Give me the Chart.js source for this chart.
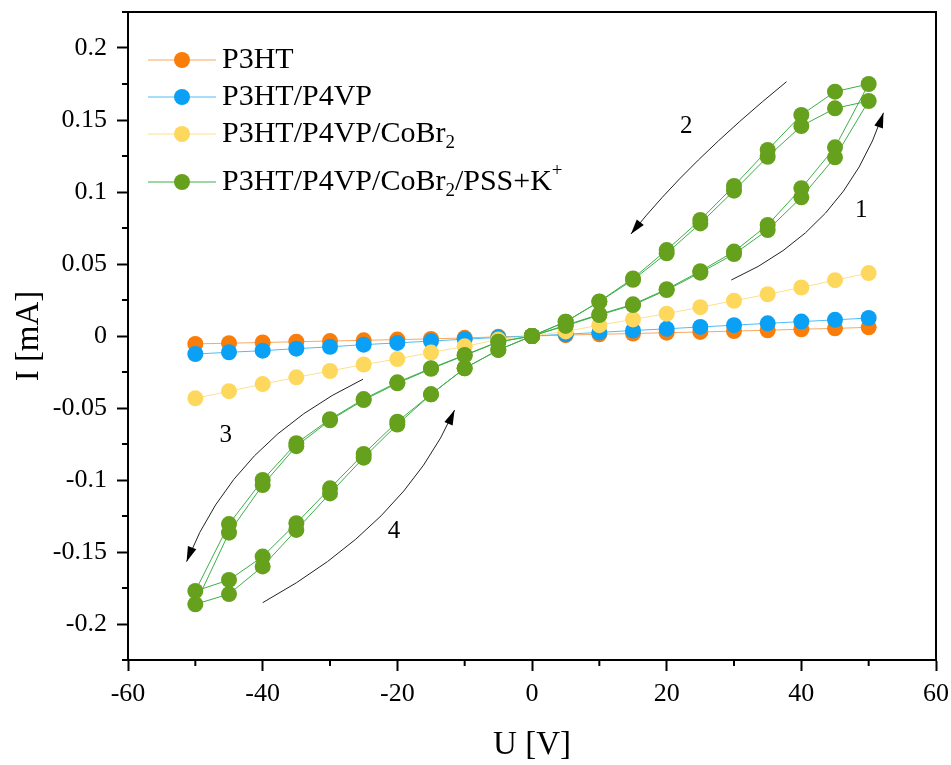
<!DOCTYPE html>
<html>
<head>
<meta charset="utf-8">
<title>I-U</title>
<script src="https://cdn.jsdelivr.net/npm/chart.js@4.4.1/dist/chart.umd.min.js"></script>
<style>
  html, body { margin: 0; padding: 0; background: #fff; }
  #wrap { width: 951px; height: 765px; }
</style>
</head>
<body>
<div id="wrap"><canvas id="iv-chart" width="951" height="765"></canvas></div>
<script>
// voltage [V] for the single sweeps
var uSweep = [-50, -45, -40, -35, -30, -25, -20, -15, -10, -5, 0, 5, 10, 15, 20, 25, 30, 35, 40, 45, 50];
// voltage [V] for one full cycle 0 -> 50 -> -50 -> 0
var uCycle = [0, 5, 10, 15, 20, 25, 30, 35, 40, 45, 50,
              45, 40, 35, 30, 25, 20, 15, 10, 5, 0,
              -5, -10, -15, -20, -25, -30, -35, -40, -45, -50,
              -45, -40, -35, -30, -25, -20, -15, -10, -5, 0];

// current [mA]
var iP3HT = [-0.0055, -0.005, -0.0045, -0.004, -0.0035, -0.003, -0.0025, -0.002, -0.0013, -0.0006, 0,
             0.0006, 0.0012, 0.0017, 0.0023, 0.0028, 0.0034, 0.004, 0.0047, 0.0053, 0.006];
var iP4VP = [-0.0125, -0.0113, -0.0102, -0.0088, -0.0075, -0.006, -0.0048, -0.0035, -0.0022, -0.001, 0,
             0.0012, 0.0025, 0.0038, 0.005, 0.0063, 0.0075, 0.0088, 0.01, 0.0112, 0.0125];
var iCoBr = [-0.0433, -0.0383, -0.0334, -0.0287, -0.0243, -0.0198, -0.016, -0.0115, -0.0072, -0.0025, 0,
             0.0032, 0.0075, 0.0115, 0.0155, 0.02, 0.0245, 0.029, 0.0337, 0.0388, 0.0437];
var iPssCycle1 = [0, 0.007, 0.0146, 0.0215, 0.0319, 0.044, 0.0569, 0.0736, 0.0963, 0.1241, 0.1632,
                  0.1581, 0.1458, 0.1245, 0.1009, 0.0782, 0.0574, 0.039, 0.0238, 0.0099, 0,
                  -0.004, -0.0132, -0.0224, -0.0322, -0.0438, -0.0578, -0.0745, -0.1, -0.1306, -0.1771,
                  -0.1694, -0.1532, -0.13, -0.1058, -0.0819, -0.0595, -0.0405, -0.0224, -0.0097, 0];
var iPssCycle2 = [0, 0.0075, 0.015, 0.022, 0.0325, 0.045, 0.0586, 0.0771, 0.1026, 0.131, 0.175,
                  0.1697, 0.1535, 0.1292, 0.1042, 0.0806, 0.0597, 0.04, 0.024, 0.0099, 0,
                  -0.0042, -0.0135, -0.0228, -0.0328, -0.0445, -0.0585, -0.0765, -0.1035, -0.1366, -0.1863,
                  -0.1792, -0.16, -0.1347, -0.1093, -0.0845, -0.0615, -0.0405, -0.0224, -0.0097, 0];

// legend names: _x subscript, ^x superscript
var seriesNames = ['P3HT', 'P3HT/P4VP', 'P3HT/P4VP/CoBr_2', 'P3HT/P4VP/CoBr_2/PSS+K^+'];

// sweep direction arrows, in (U, I) units
var sweepArrows = [
  { text: '1', from: [29.6, 0.0389], via: [43.6, 0.0854], to: [52.2, 0.155], at: [48.9, 0.0875] },
  { text: '2', from: [37.8, 0.1766], via: [24.7, 0.1222], to: [14.7, 0.0708], at: [22.9, 0.1458] },
  { text: '3', from: [-25.1, -0.030], via: [-41.2, -0.0831], to: [-51.3, -0.1567], at: [-45.5, -0.0688] },
  { text: '4', from: [-40.0, -0.1852], via: [-22.4, -0.1248], to: [-11.5, -0.0514], at: [-20.5, -0.1354] }
];

function toPoints(u, i) {
  var pts = [];
  for (var k = 0; k < u.length; k++) pts.push({ x: u[k], y: i[k] });
  return pts;
}

var serif = "'Liberation Serif', 'Times New Roman', serif";
Chart.defaults.font.family = serif;
Chart.defaults.color = '#000';

function series(name, pts, dot, line, order) {
  return {
    label: name,
    data: pts,
    showLine: true,
    borderColor: line,
    borderWidth: 1,
    backgroundColor: dot,
    pointBackgroundColor: dot,
    pointBorderWidth: 0,
    pointRadius: 8,
    pointHoverRadius: 8,
    tension: 0,
    order: order
  };
}

var greenPts = toPoints(uCycle, iPssCycle1).concat(toPoints(uCycle, iPssCycle2));

function isMajorX(v) { return Math.round(v) % 20 === 0; }
function isMajorY(v) { return Math.round(v * 1000) % 50 === 0; }

// frame, minor ticks, legend and sweep arrows
var extras = {
  id: 'extras',
  afterDraw: function(chart) {
    var ctx = chart.ctx, a = chart.chartArea;
    var xs = chart.scales.x, ys = chart.scales.y;
    ctx.save();

    ctx.strokeStyle = '#000';
    ctx.lineWidth = 2;
    ctx.strokeRect(a.left, a.top, a.right - a.left, a.bottom - a.top);

    ctx.lineWidth = 2;
    ctx.beginPath();
    xs.ticks.forEach(function(t) {
      if (isMajorX(t.value)) return;
      var px = xs.getPixelForValue(t.value);
      ctx.moveTo(px, a.bottom); ctx.lineTo(px, a.bottom + 6);
    });
    ys.ticks.forEach(function(t) {
      if (isMajorY(t.value)) return;
      var py = ys.getPixelForValue(t.value);
      ctx.moveTo(a.left, py); ctx.lineTo(a.left - 6, py);
    });
    ctx.stroke();

    // legend
    var rowY = [60, 97, 134, 182];
    var sets = chart.data.datasets;
    for (var r = 0; r < sets.length; r++) {
      var ds = sets[r], y = rowY[r];
      ctx.strokeStyle = ds.borderColor;
      ctx.lineWidth = 1;
      ctx.beginPath();
      ctx.moveTo(a.left + 20, y); ctx.lineTo(a.left + 88, y);
      ctx.stroke();
      ctx.fillStyle = ds.pointBackgroundColor;
      ctx.beginPath();
      ctx.arc(a.left + 54, y, 8, 0, Math.PI * 2);
      ctx.fill();
      drawRich(ctx, ds.label, a.left + 94, y, 30);
    }

    // arrows
    ctx.strokeStyle = '#222';
    ctx.fillStyle = '#000';
    ctx.lineWidth = 1;
    sweepArrows.forEach(function(ar) {
      var p0 = [xs.getPixelForValue(ar.from[0]), ys.getPixelForValue(ar.from[1])];
      var pm = [xs.getPixelForValue(ar.via[0]), ys.getPixelForValue(ar.via[1])];
      var p1 = [xs.getPixelForValue(ar.to[0]), ys.getPixelForValue(ar.to[1])];
      var c = [2 * pm[0] - (p0[0] + p1[0]) / 2, 2 * pm[1] - (p0[1] + p1[1]) / 2];
      ctx.beginPath();
      ctx.moveTo(p0[0], p0[1]);
      ctx.quadraticCurveTo(c[0], c[1], p1[0], p1[1]);
      ctx.stroke();
      var ang = Math.atan2(p1[1] - c[1], p1[0] - c[0]);
      var len = 15, half = 4.5;
      ctx.beginPath();
      ctx.moveTo(p1[0], p1[1]);
      ctx.lineTo(p1[0] - len * Math.cos(ang) + half * Math.sin(ang), p1[1] - len * Math.sin(ang) - half * Math.cos(ang));
      ctx.lineTo(p1[0] - len * Math.cos(ang) - half * Math.sin(ang), p1[1] - len * Math.sin(ang) + half * Math.cos(ang));
      ctx.closePath();
      ctx.fill();
      ctx.font = '25px ' + serif;
      ctx.textAlign = 'center';
      ctx.textBaseline = 'middle';
      ctx.fillText(ar.text, xs.getPixelForValue(ar.at[0]), ys.getPixelForValue(ar.at[1]));
    });
    ctx.restore();
  }
};

// text with _x subscripts and ^x superscripts
function drawRich(ctx, s, x, y, size) {
  ctx.textAlign = 'left';
  ctx.textBaseline = 'middle';
  ctx.fillStyle = '#000';
  var i = 0;
  while (i < s.length) {
    var ch = s[i];
    if ((ch === '_' || ch === '^') && i + 1 < s.length) {
      var small = Math.round(size * 0.62);
      ctx.font = small + 'px ' + serif;
      var dy = ch === '_' ? size * 0.3 : -size * 0.35;
      ctx.fillText(s[i + 1], x, y + dy);
      x += ctx.measureText(s[i + 1]).width;
      i += 2;
    } else {
      var j = i;
      while (j < s.length && s[j] !== '_' && s[j] !== '^') j++;
      var part = s.slice(i, j);
      ctx.font = size + 'px ' + serif;
      ctx.fillText(part, x, y);
      x += ctx.measureText(part).width;
      i = j;
    }
  }
}

var ctx = document.getElementById('iv-chart').getContext('2d');
var ivChart = new Chart(ctx, {
  type: 'scatter',
  data: {
    datasets: [
      series(seriesNames[0], toPoints(uSweep, iP3HT), '#fa7d09', '#f7a860', 3),
      series(seriesNames[1], toPoints(uSweep, iP4VP), '#0aa0f5', '#4dbdf5', 2),
      series(seriesNames[2], toPoints(uSweep, iCoBr), '#fdd85d', '#fde08c', 1),
      series(seriesNames[3], greenPts, '#66a11e', '#3dae49', 0)
    ]
  },
  options: {
    responsive: false,
    animation: false,
    layout: { padding: { top: 12, right: 15, left: 0, bottom: 0 } },
    plugins: { legend: { display: false }, tooltip: { enabled: false } },
    scales: {
      x: {
        type: 'linear',
        min: -60, max: 60,
        afterFit: function(s) { s.height = 105; s.paddingLeft = 0; s.paddingRight = 0; },
        border: { display: true, color: '#000', width: 2 },
        grid: {
          drawOnChartArea: false, drawTicks: true, tickLength: 11, tickWidth: 2,
          tickColor: function(c) { return c.tick && isMajorX(c.tick.value) ? '#000' : 'rgba(0,0,0,0)'; }
        },
        ticks: {
          stepSize: 10, padding: 8, maxRotation: 0, autoSkip: false,
          font: { size: 26 },
          callback: function(v) { return isMajorX(v) ? String(Math.round(v)) : ''; }
        },
        title: { display: true, text: 'U [V]', font: { size: 33 }, padding: { top: 0, bottom: 0 } }
      },
      y: {
        type: 'linear',
        min: -0.225, max: 0.225,
        afterFit: function(s) { s.width = 128; s.paddingTop = 0; s.paddingBottom = 0; },
        border: { display: true, color: '#000', width: 2 },
        grid: {
          drawOnChartArea: false, drawTicks: true, tickLength: 11, tickWidth: 2,
          tickColor: function(c) { return c.tick && isMajorY(c.tick.value) ? '#000' : 'rgba(0,0,0,0)'; }
        },
        ticks: {
          stepSize: 0.025, padding: 10, autoSkip: false,
          font: { size: 26 },
          callback: function(v) { var m = Math.round(v * 1000); return isMajorY(v) ? String(m / 1000) : ''; }
        },
        title: { display: true, text: 'I [mA]', font: { size: 33 }, padding: { top: 10, bottom: 0 } }
      }
    }
  },
  plugins: [extras]
});
</script>
</body>
</html>
